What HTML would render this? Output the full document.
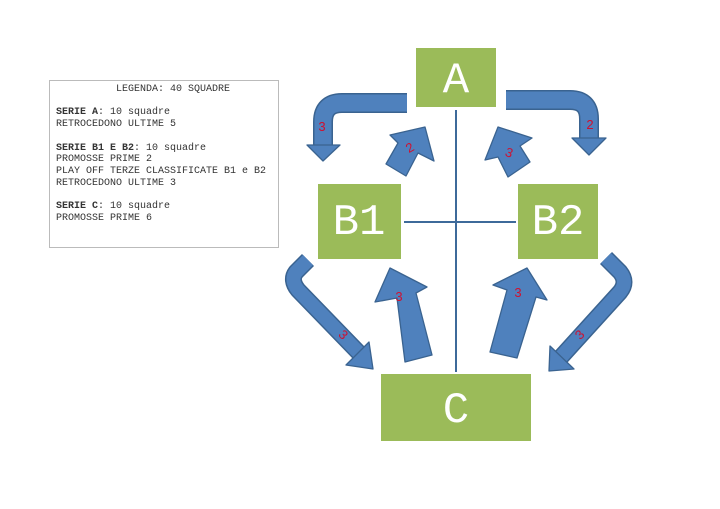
<!DOCTYPE html>
<html><head><style>
body{margin:0;background:#fff;}
.wrap{position:relative;width:720px;height:509px;overflow:hidden;}
.leg{position:absolute;left:49px;top:80px;width:230px;height:168px;border:1px solid #bbb;font-family:"Liberation Mono",monospace;font-size:10px;line-height:11.7px;color:#333;padding:3px 0 0 6px;box-sizing:border-box;white-space:pre;}
</style></head><body><div class="wrap">
<div class="leg">          LEGENDA: 40 SQUADRE

<b>SERIE A</b>: 10 squadre
RETROCEDONO ULTIME 5

<b>SERIE B1 E B2</b>: 10 squadre
PROMOSSE PRIME 2
PLAY OFF TERZE CLASSIFICATE B1 e B2
RETROCEDONO ULTIME 3

<b>SERIE C</b>: 10 squadre
PROMOSSE PRIME 6</div>
<svg width="720" height="509" style="position:absolute;left:0;top:0">
<g fill="#9bbb59">
<rect x="416" y="48" width="80" height="59"/>
<rect x="318" y="184" width="83" height="75"/>
<rect x="518" y="184" width="80" height="75"/>
<rect x="381" y="374" width="150" height="67"/>
</g>
<g stroke="#3e6a9a" stroke-width="2" fill="none">
<line x1="456" y1="110" x2="456" y2="372"/>
<line x1="404" y1="222" x2="516" y2="222"/>
</g>
<g fill="none" stroke-linejoin="round">
<path d="M407 103 H342 Q323 103 323 122 V146" stroke="#3a6390" stroke-width="20"/>
<path d="M407 103 H342 Q323 103 323 122 V146" stroke="#4f81bd" stroke-width="17"/>
<path d="M506 100 H570 Q589 100 589 119 V139" stroke="#3a6390" stroke-width="20"/>
<path d="M506 100 H570 Q589 100 589 119 V139" stroke="#4f81bd" stroke-width="17"/>
<path d="M308 260 L296 272 Q290 280 298 290 L360 354" stroke="#3a6390" stroke-width="17"/>
<path d="M308 260 L296 272 Q290 280 298 290 L360 354" stroke="#4f81bd" stroke-width="14"/>
<path d="M606 258 L620 272 Q628 282 620 292 L561 357" stroke="#3a6390" stroke-width="17"/>
<path d="M606 258 L620 272 Q628 282 620 292 L561 357" stroke="#4f81bd" stroke-width="14"/>
</g>
<g fill="#4f81bd" stroke="#3a6390" stroke-width="1.3" stroke-linejoin="round">
<polygon points="307,145 340,145 323,161"/>
<polygon points="572,138 606,138 589,155"/>
<polygon points="346,365 373,369 369,342"/>
<polygon points="549,371 550,346 574,369"/>
<polygon points="425,127 434,161 418,153 406,176 386,164 398,143 390,135"/>
<polygon points="498,127 532,138 520,146 530,162 508,177 498,157 485,160"/>
<polygon points="390,268 427,287 416,293 432,355 405,362 397,298 375,302"/>
<polygon points="527,268 547,300 536,297 517,358 490,352 507,290 493,285"/>
</g>
<g fill="#fff" font-family="Liberation Mono, monospace" text-anchor="middle" font-size="44">
<text x="456" y="92">A</text>
<text x="359" y="234">B1</text>
<text x="558" y="234">B2</text>
<text x="456" y="422">C</text>
</g>
<g fill="#d01030" font-family="Liberation Sans, sans-serif" font-size="13" text-anchor="middle">
<text x="322" y="131">3</text>
<text x="590" y="129">2</text>
<text x="410" y="152" transform="rotate(-30 410 148)">2</text>
<text x="509" y="157" transform="rotate(20 509 153)">3</text>
<text x="399" y="301">3</text>
<text x="518" y="297">3</text>
<text x="343" y="339" transform="rotate(45 343 335)">3</text>
<text x="580" y="339" transform="rotate(-45 580 335)">3</text>
</g>
</svg></div></body></html>
